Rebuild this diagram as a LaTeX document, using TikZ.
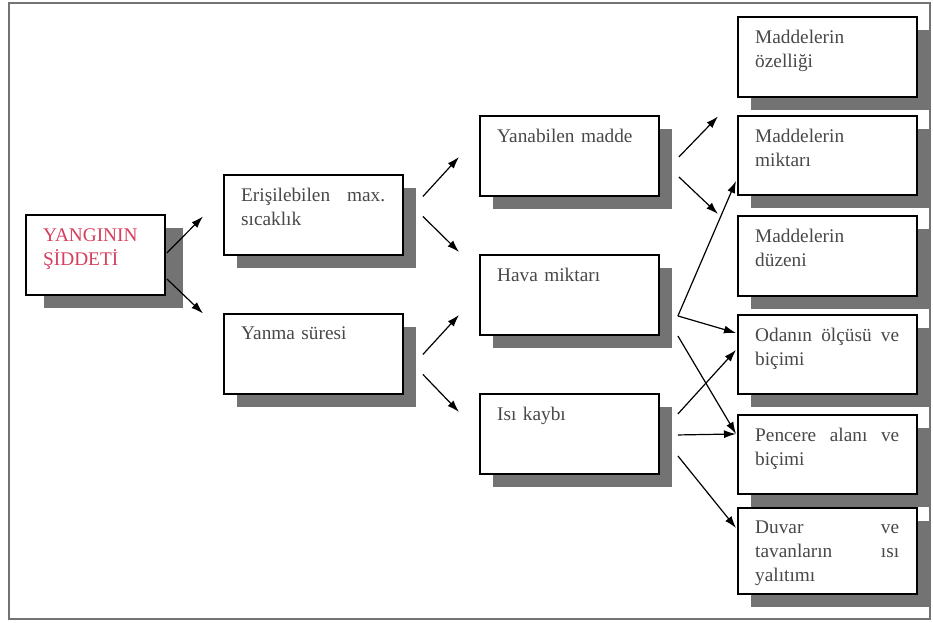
\documentclass[tikz,border=0pt]{standalone}
\usepackage{fontspec}
\setmainfont{Liberation Serif}
\usetikzlibrary{positioning,arrows.meta,calc,shadows}
\definecolor{titlered}{RGB}{214,62,92}
\definecolor{textgray}{RGB}{72,72,72}
\tikzset{
box/.style={draw,line width=1.9pt,fill=white,anchor=north west,
minimum width=179pt,minimum height=80pt,inner sep=0pt,
drop shadow={shadow xshift=#1,shadow yshift=-13pt,fill=black!55,opacity=1}},
box/.default=13pt,
boxtext/.style={anchor=north west,inner sep=0pt,text width=144pt,align=left,
font=\fontsize{19.3}{24}\selectfont,text=textgray},
arr/.style={-{Latex[length=12pt,width=8pt]},line width=1.2pt}
}

\begin{document}
\begin{tikzpicture}[x=1pt, y=-1pt]
\useasboundingbox (0,0) rectangle (933,622);
\draw[black!55,line width=1.8pt] (9,3) rectangle (930,619);

% columns of boxes
\node[box=18pt,minimum width=139pt] (yan) at (25,214) {};
\node[box] (eri) at (223,174) {};
\node[box] (yns) at (223,313) {};
\node[box] (ymd) at (479,115) {};
\node[box] (hava) at (479,254) {};
\node[box] (isi) at (479,393) {};
\node[box] (ozel) at (737,16) {};
\node[box,minimum height=79pt] (mikt) at (737,115) {};
\node[box] (duz) at (737,215) {};
\node[box,minimum height=79pt] (oda) at (737,314) {};
\node[box,minimum height=79pt] (pen) at (737,414) {};
\node[box,minimum height=86pt] (duv) at (737,507) {};

% texts
\node[boxtext,text=titlered] (t-yan) at ($(yan.north west)+(18,15)$) {YANGININ\\ŞİDDETİ};
\node[boxtext] (t-eri) at ($(eri.north west)+(18,14)$) {Erişilebilen\hfill max.\\sıcaklık};
\node[boxtext] (t-yns) at ($(yns.north west)+(18,14)$) {Yanma süresi};
\node[boxtext] (t-ymd) at ($(ymd.north west)+(18,14)$) {Yanabilen madde};
\node[boxtext] (t-hava) at ($(hava.north west)+(18,14)$) {Hava miktarı};
\node[boxtext] (t-isi) at ($(isi.north west)+(18,14)$) {Isı kaybı};
\node[boxtext] (t-ozel) at ($(ozel.north west)+(18,14)$) {Maddelerin\\özelliği};
\node[boxtext] (t-mikt) at ($(mikt.north west)+(18,14)$) {Maddelerin\\miktarı};
\node[boxtext] (t-duz) at ($(duz.north west)+(18,14)$) {Maddelerin\\düzeni};
\node[boxtext] (t-oda) at ($(oda.north west)+(18,14)$) {Odanın\hfill ölçüsü\hfill ve\\biçimi};
\node[boxtext] (t-pen) at ($(pen.north west)+(18,14)$) {Pencere\hfill alanı\hfill ve\\biçimi};
\node[boxtext] (t-duv) at ($(duv.north west)+(18,14)$) {Duvar\hfill ve\\tavanların\hfill ısı\\yalıtımı};

% arrows
\draw[arr] ($(yan.east)+(1,-2)$) -- ($(eri.west)+(-20,1.5)$);
\draw[arr] ($(yan.east)+(1,24)$) -- ($(yns.west)+(-20,-40.5)$);
\draw[arr] ($(eri.east)+(19,-18.5)$) -- ($(ymd.west)+(-20,1)$);
\draw[arr] ($(eri.east)+(19,1.5)$) -- ($(hava.west)+(-20,-43)$);
\draw[arr] ($(yns.east)+(19,0.5)$) -- ($(hava.west)+(-20,20)$);
\draw[arr] ($(yns.east)+(19,20.5)$) -- ($(isi.west)+(-20,-22)$);
\draw[arr] ($(ymd.east)+(19,1)$) -- ($(ozel.west)+(-19,59.5)$);
\draw[arr] ($(ymd.east)+(19,21)$) -- ($(duz.west)+(-19,-42)$);
\draw[arr] ($(hava.east)+(18,21)$) -- ($(mikt.west)+(-1,25.5)$);
\draw[arr] ($(hava.east)+(18,21)$) -- ($(oda.west)+(-1,-21.5)$);
\draw[arr] ($(hava.east)+(18,41)$) -- ($(pen.west)+(-1,-20.5)$);
\draw[arr] ($(isi.east)+(18,-20)$) -- ($(oda.west)+(-1,-4.5)$);
\draw[arr] ($(isi.east)+(18,1)$) -- ($(pen.west)+(-1,-20.5)$);
\draw[arr] ($(isi.east)+(18,22)$) -- ($(duv.west)+(-1,-23)$);
\end{tikzpicture}
\end{document}
